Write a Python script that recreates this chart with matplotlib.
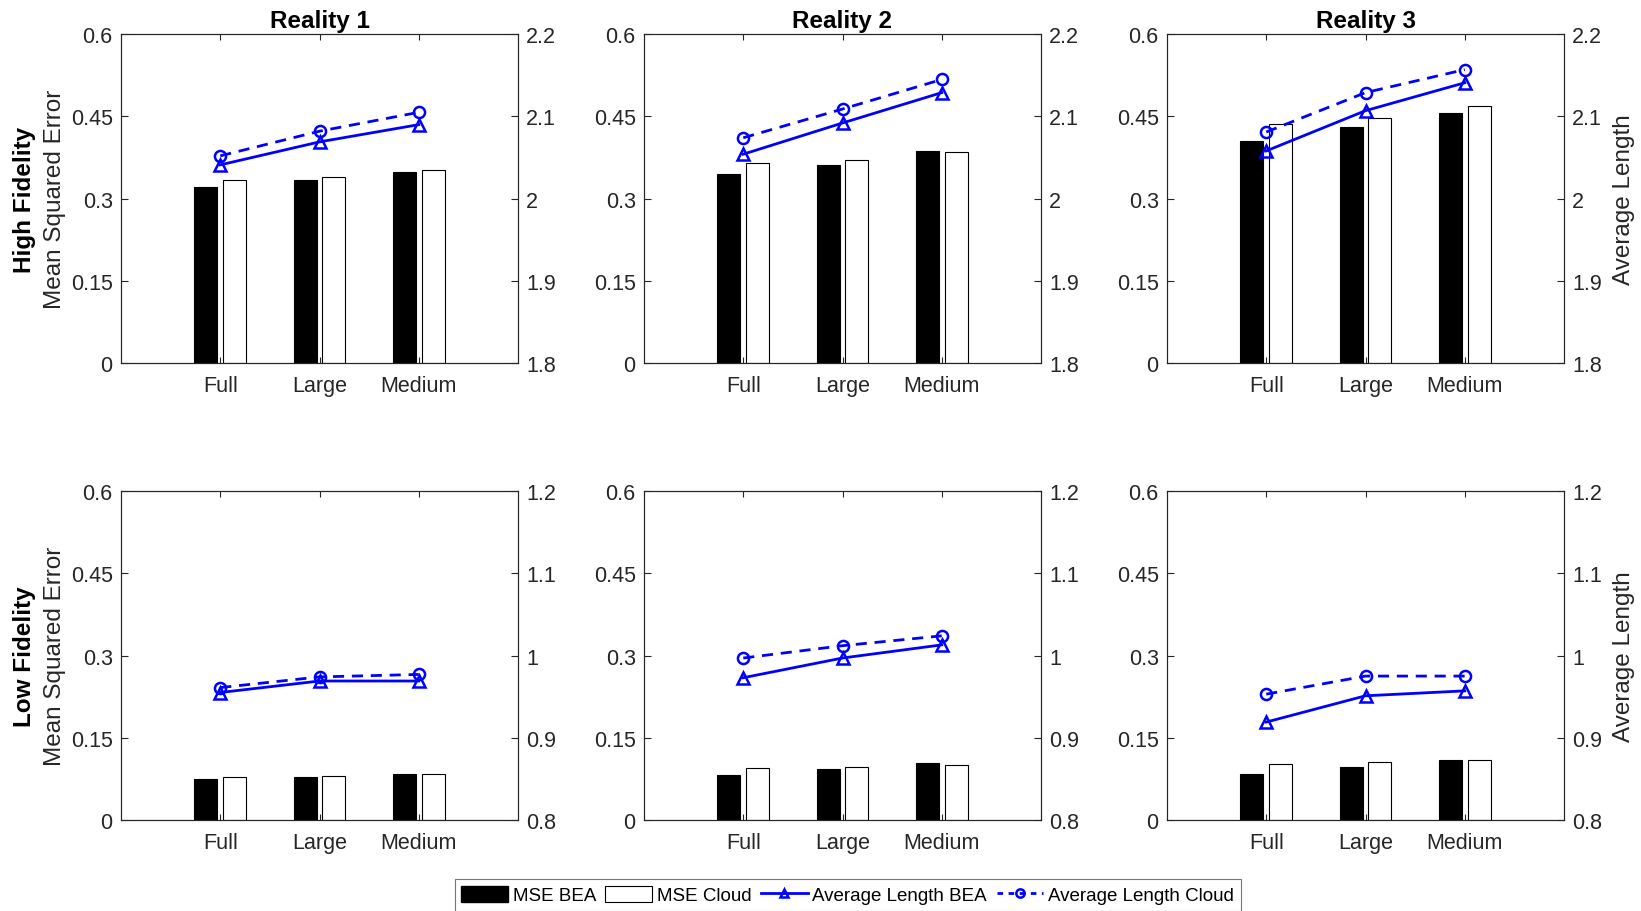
import matplotlib

matplotlib.use("Agg")
import matplotlib.pyplot as plt
import numpy as np
from matplotlib.lines import Line2D
from matplotlib.patches import Patch

plt.rcParams["font.family"] = ["Liberation Sans", "DejaVu Sans"]

categories = ["Full", "Large", "Medium"]
realities = ["Reality 1", "Reality 2", "Reality 3"]
row_labels = ["High Fidelity", "Low Fidelity"]

# one row per reality, values for Full / Large / Medium
hf_mse_bea = [[0.322, 0.334, 0.348], [0.344, 0.361, 0.386], [0.405, 0.431, 0.457]]
hf_mse_cloud = [[0.334, 0.339, 0.353], [0.365, 0.371, 0.385], [0.437, 0.447, 0.469]]
hf_len_bea = [[2.041, 2.069, 2.090], [2.054, 2.092, 2.129], [2.058, 2.107, 2.141]]
hf_len_cloud = [[2.052, 2.082, 2.105], [2.074, 2.109, 2.145], [2.081, 2.129, 2.157]]

lf_mse_bea = [[0.074, 0.079, 0.083], [0.082, 0.092, 0.103], [0.083, 0.096, 0.109]]
lf_mse_cloud = [[0.079, 0.080, 0.084], [0.095, 0.096, 0.101], [0.102, 0.105, 0.110]]
lf_len_bea = [[0.955, 0.969, 0.969], [0.973, 0.997, 1.013], [0.919, 0.951, 0.957]]
lf_len_cloud = [[0.961, 0.974, 0.977], [0.997, 1.012, 1.024], [0.953, 0.975, 0.975]]

mse_ticks = [0, 0.15, 0.3, 0.45, 0.6]
mse_ticklabels = ["0", "0.15", "0.3", "0.45", "0.6"]
hf_len_ticks = [1.8, 1.9, 2.0, 2.1, 2.2]
hf_len_ticklabels = ["1.8", "1.9", "2", "2.1", "2.2"]
lf_len_ticks = [0.8, 0.9, 1.0, 1.1, 1.2]
lf_len_ticklabels = ["0.8", "0.9", "1", "1.1", "1.2"]

AXIS_GRAY = "#262626"
TICK_FS = 15.5
LABEL_FS = 17.5

W, H = 1641, 912
col_left = [121, 644, 1167]
ax_w = 397
row_top = [35.3, 492.3]
ax_h = 328.5


def _style(ax, ax2, len_ticks, len_ticklabels):
    for a in (ax, ax2):
        for spine in a.spines.values():
            spine.set_color(AXIS_GRAY)
            spine.set_linewidth(0.8)
    ax.set_xlim(0, 4)
    ax.set_xticks([1, 2, 3])
    ax.set_xticklabels(categories)
    ax.set_ylim(0, 0.6)
    ax.set_yticks(mse_ticks)
    ax.set_yticklabels(mse_ticklabels)
    ax.tick_params(axis="x", direction="in", top=True, length=4, width=0.8,
                   color=AXIS_GRAY, labelcolor=AXIS_GRAY, labelsize=TICK_FS, pad=9)
    ax.tick_params(axis="y", direction="in", length=5, width=0.8,
                   color=AXIS_GRAY, labelcolor=AXIS_GRAY, labelsize=TICK_FS, pad=6)
    ax2.set_ylim(len_ticks[0], len_ticks[-1])
    ax2.set_yticks(len_ticks)
    ax2.set_yticklabels(len_ticklabels)
    ax2.tick_params(axis="y", direction="in", length=5, width=0.8,
                    color=AXIS_GRAY, labelcolor=AXIS_GRAY, labelsize=TICK_FS, pad=6)


fig = plt.figure(figsize=(W / 100, H / 100), dpi=100)
x = np.arange(1, len(categories) + 1)
bar_w = 0.23
offset = 0.145

rows = [
    (hf_mse_bea, hf_mse_cloud, hf_len_bea, hf_len_cloud, hf_len_ticks, hf_len_ticklabels),
    (lf_mse_bea, lf_mse_cloud, lf_len_bea, lf_len_cloud, lf_len_ticks, lf_len_ticklabels),
]

for r, (mse_b, mse_c, len_b, len_c, lticks, llabels) in enumerate(rows):
    for c in range(3):
        rect = [col_left[c] / W, 1 - (row_top[r] + ax_h) / H, ax_w / W, ax_h / H]
        ax = fig.add_axes(rect)
        ax.bar(x - offset, mse_b[c], width=bar_w, color="black", edgecolor="black", linewidth=0.8)
        ax.bar(x + offset, mse_c[c], width=bar_w, color="white", edgecolor="black", linewidth=0.8)
        ax2 = ax.twinx()
        ax2.plot(x, len_b[c], color="blue", lw=2.0, marker="^", ms=8,
                 mfc="none", mew=1.8)
        ax2.plot(x, len_c[c], color="blue", lw=2.0, ls=(0, (4, 2.8)), marker="o",
                 ms=8, mfc="none", mew=1.8)
        _style(ax, ax2, lticks, llabels)
        if r == 0:
            ax.set_title(realities[c], fontsize=LABEL_FS, fontweight="bold", pad=5)
        if c == 2:
            ax2.set_ylabel("Average Length", fontsize=LABEL_FS, color=AXIS_GRAY, labelpad=8)

    yc = 1 - (row_top[r] + ax_h / 2) / H
    fig.text(25 / W, yc, row_labels[r], rotation=90, ha="center", va="center",
             fontsize=LABEL_FS, fontweight="bold")
    fig.text(55 / W, yc, "Mean Squared Error", rotation=90, ha="center", va="center",
             fontsize=LABEL_FS, color=AXIS_GRAY)

handles = [
    Patch(facecolor="black", edgecolor="black", label="MSE BEA"),
    Patch(facecolor="white", edgecolor="black", linewidth=0.8, label="MSE Cloud"),
    Line2D([], [], color="blue", lw=2.0, marker="^", ms=6, mfc="none", mew=1.8,
           label="Average Length BEA"),
    Line2D([], [], color="blue", lw=2.0, ls=(0, (2, 2)), marker="o", ms=6, mfc="none",
           mew=1.8, label="Average Length Cloud"),
]
leg = fig.legend(handles=handles, loc="upper center", bbox_to_anchor=(847.5 / W, 1 - 880 / H),
                 ncol=4, fontsize=13.5, frameon=True, fancybox=False, handlelength=2.5,
                 handleheight=1.0, handletextpad=0.25, columnspacing=0.5, borderpad=0.35,
                 borderaxespad=0)
leg.get_frame().set_edgecolor("#555555")
leg.get_frame().set_linewidth(0.8)

fig.savefig("out.png", dpi=100)
plt.close(fig)
